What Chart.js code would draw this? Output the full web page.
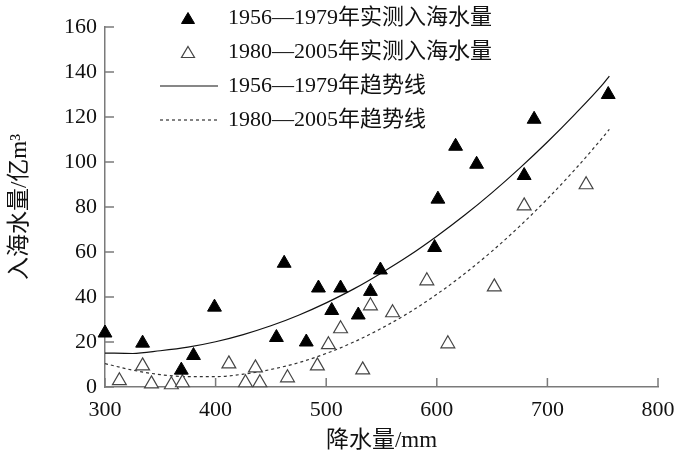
<!DOCTYPE html>
<html>
<head>
<meta charset="utf-8">
<script src="https://cdn.jsdelivr.net/npm/chart.js@4.4.1/dist/chart.umd.min.js"></script>
<style>
body { margin: 0; background: #fff; }
#wrap { width: 685px; height: 457px; }
</style>
</head>
<body>
<div id="wrap"><canvas id="chart"></canvas></div>
<script>
// measured points
const rainEarly = [300, 334, 369, 380, 399, 455, 462, 482, 493, 505, 513, 529, 540, 549, 598, 601, 617, 636, 679, 688, 755];
const flowEarly = [24, 19.5, 7.5, 14, 35.5, 22, 55, 20, 44, 34, 44, 32, 42.5, 52, 62, 83.5, 107, 99, 94, 119, 130];

const rainLate = [313, 334, 342, 360, 370, 412, 427, 436, 440, 465, 492, 502, 513, 533, 540, 560, 591, 610, 652, 679, 735];
const flowLate = [2.8, 9.4, 1.4, 1.0, 1.9, 10.3, 1.9, 8.5, 1.9, 4.1, 9.4, 18.8, 25.9, 7.6, 36.1, 33, 47.2, 19.2, 44.5, 80.5, 89.9];

// trend lines
const trendRain = [300, 325, 350, 375, 400, 425, 450, 475, 500, 525, 550, 575, 600, 625, 650, 675, 700, 725, 750, 756];
const trendEarly = [15.1, 14.9, 16.1, 17.7, 20.1, 23.3, 27.2, 31.9, 37.4, 43.6, 50.7, 58.4, 67.0, 76.3, 86.4, 97.3, 108.9, 121.3, 134.5, 138.2];
const trendLate = [10.4, 7.5, 5.5, 4.6, 4.6, 5.7, 7.8, 10.8, 14.9, 20.0, 26.1, 33.1, 41.2, 50.3, 60.4, 71.5, 83.6, 96.7, 110.9, 114.5];

const legendLabels = ["1956—1979年实测入海水量", "1980—2005年实测入海水量", "1956—1979年趋势线", "1980—2005年趋势线"];
const xTitle = "降水量/mm";
const yTitle = "入海水量/亿m³";

const FONT = "'Liberation Serif', 'Noto Sans CJK SC', serif";
const AXIS = "#7a7a7a";

function pairs(xs, ys) {
    return xs.map((x, i) => ({ x: x, y: ys[i] }));
}

//INWARD TICKS
const innerTicks = {
    id: "innerTicks",
    afterDraw(chart) {
        const ctx = chart.ctx;
        const xs = chart.scales.x;
        const ys = chart.scales.y;
        const area = chart.chartArea;
        ctx.save();
        ctx.strokeStyle = AXIS;
        ctx.lineWidth = 1.5;
        xs.ticks.forEach((t) => {
            const px = xs.getPixelForValue(t.value);
            ctx.beginPath();
            ctx.moveTo(px, area.bottom);
            ctx.lineTo(px, area.bottom - 9);
            ctx.stroke();
        });
        ys.ticks.forEach((t) => {
            const py = ys.getPixelForValue(t.value);
            ctx.beginPath();
            ctx.moveTo(area.left, py);
            ctx.lineTo(area.left + 9, py);
            ctx.stroke();
        });
        ctx.restore();
    }
};

//LEGEND
const sideLegend = {
    id: "sideLegend",
    afterDraw(chart) {
        const ctx = chart.ctx;
        const rows = [18, 52, 86, 120];
        ctx.save();
        ctx.font = "22px " + FONT;
        ctx.textBaseline = "middle";
        legendLabels.forEach((label, i) => {
            const ds = chart.data.datasets[i];
            const y = rows[i];
            if (ds.showLine) {
                ctx.strokeStyle = ds.borderColor;
                ctx.lineWidth = ds.borderWidth;
                ctx.setLineDash(ds.borderDash || []);
                ctx.beginPath();
                ctx.moveTo(160, y);
                ctx.lineTo(218, y);
                ctx.stroke();
                ctx.setLineDash([]);
            } else {
                ctx.fillStyle = ds.pointBackgroundColor;
                ctx.strokeStyle = ds.pointBorderColor;
                ctx.lineWidth = ds.pointBorderWidth;
                ctx.beginPath();
                ctx.moveTo(188, y - 5.5);
                ctx.lineTo(194.5, y + 5.5);
                ctx.lineTo(181.5, y + 5.5);
                ctx.closePath();
                ctx.fill();
                ctx.stroke();
            }
            ctx.fillStyle = "#111";
            ctx.fillText(label, 228, y);
        });
        ctx.restore();
    }
};

new Chart(document.getElementById("chart"), {
    type: "scatter",
    data: {
        datasets: [{
            label: legendLabels[0],
            data: pairs(rainEarly, flowEarly),
            pointStyle: "triangle",
            pointRadius: 8,
            pointBackgroundColor: "#000",
            pointBorderColor: "#000",
            pointBorderWidth: 1,
            clip: false,
            order: 1,
        }, {
            label: legendLabels[1],
            data: pairs(rainLate, flowLate),
            pointStyle: "triangle",
            pointRadius: 8,
            pointBackgroundColor: "#fff",
            pointBorderColor: "#444",
            pointBorderWidth: 1.2,
            clip: false,
            order: 1,
        }, {
            label: legendLabels[2],
            data: pairs(trendRain, trendEarly),
            showLine: true,
            pointRadius: 0,
            borderColor: "#111",
            borderWidth: 1.2,
            cubicInterpolationMode: "monotone",
            order: 2,
        }, {
            label: legendLabels[3],
            data: pairs(trendRain, trendLate),
            showLine: true,
            pointRadius: 0,
            borderColor: "#333",
            borderWidth: 1.2,
            borderDash: [3, 3],
            cubicInterpolationMode: "monotone",
            order: 2,
        }],
    },
    options: {
        responsive: true,
        maintainAspectRatio: false,
        animation: false,
        layout: { padding: { top: 27, right: 27, left: 0, bottom: 0 } },
        plugins: {
            legend: { display: false },
            tooltip: { enabled: false },
        },
        scales: {
            x: {
                type: "linear",
                min: 300,
                max: 800,
                ticks: { stepSize: 100, padding: 10, color: "#111", font: { family: FONT, size: 22 } },
                grid: { display: false, drawTicks: false },
                border: { color: AXIS, width: 1.5 },
                title: { display: true, text: xTitle, color: "#111", padding: { top: 0, bottom: 2 }, font: { family: FONT, size: 23 } },
                afterFit(scale) { scale.height = 70; },
            },
            y: {
                min: 0,
                max: 160,
                ticks: { stepSize: 20, padding: 8, color: "#111", font: { family: FONT, size: 22 } },
                grid: { display: false, drawTicks: false },
                border: { color: AXIS, width: 1.5 },
                title: { display: true, text: yTitle, color: "#111", padding: { top: 6, bottom: 0 }, font: { family: FONT, size: 23 } },
                afterFit(scale) { scale.width = 105; },
            },
        },
    },
    plugins: [innerTicks, sideLegend],
});
</script>
</body>
</html>
